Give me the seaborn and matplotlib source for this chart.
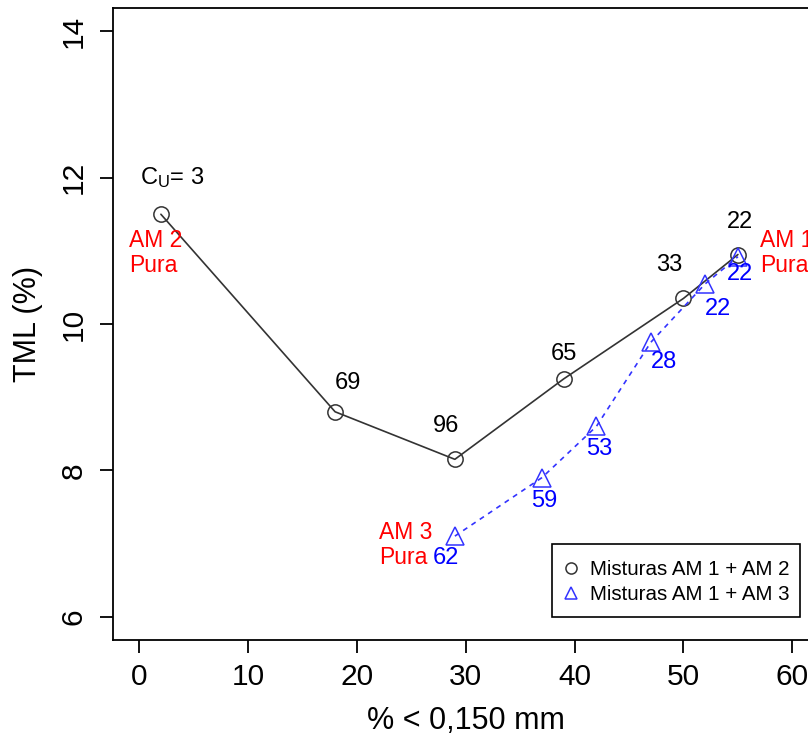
import matplotlib
matplotlib.use("Agg")
import matplotlib.pyplot as plt
from matplotlib.lines import Line2D
from matplotlib.patches import Rectangle
import seaborn as sns
import pandas as pd

# ---- data ----
x_am2 = [2, 18, 29, 39, 50, 55]
y_am2 = [11.5, 8.8, 8.15, 9.25, 10.35, 10.95]
lab_am2 = ["", "69", "96", "65", "33", "22"]

x_am3 = [29, 37, 42, 47, 52, 55]
y_am3 = [7.1, 7.9, 8.6, 9.75, 10.55, 10.92]
lab_am3 = ["62", "59", "53", "28", "22", "22"]

legend_labels = ["Misturas AM 1 + AM 2", "Misturas AM 1 + AM 3"]
x_label = "% < 0,150 mm"
y_label = "TML (%)"
x_ticks = [0, 10, 20, 30, 40, 50, 60]
y_ticks = [6, 8, 10, 12, 14]

# ---- styling / layout (not data) ----
lab_am2_off = [(0, 0), (13, 29), (-9, 33), (0, 25), (-14, 33), (2, 33)]
lab_am3_off = [(-9, -22), (2, -23), (3, -23), (13, -20), (13, -25), (2, -17)]

sns.set_style("ticks")
plt.rcParams["font.family"] = ["Liberation Sans", "DejaVu Sans"]
plt.rcParams["mathtext.fontset"] = "custom"
plt.rcParams["mathtext.rm"] = "Liberation Sans"
plt.rcParams["mathtext.it"] = "Liberation Sans"
plt.rcParams["text.color"] = "black"
plt.rcParams["axes.labelcolor"] = "black"
plt.rcParams["xtick.color"] = "black"
plt.rcParams["ytick.color"] = "black"

W, H = 808, 737
AX_L, AX_T, AX_R, AX_B = 113, 8, 818.5, 640
fig = plt.figure(figsize=(W / 100, H / 100), dpi=100)
ax = fig.add_axes([AX_L / W, (H - AX_B) / H, (AX_R - AX_L) / W, (AX_B - AX_T) / H])

def ax_x(px):
    return (px - AX_L) / (AX_R - AX_L)

def ax_y(py):
    return (AX_B - py) / (AX_B - AX_T)

df2 = pd.DataFrame({"x": x_am2, "y": y_am2})
df3 = pd.DataFrame({"x": x_am3, "y": y_am3})

c_black = "#333333"
c_blue = "#3333ff"

sns.lineplot(data=df2, x="x", y="y", ax=ax, sort=False, color=c_black, lw=1.2,
             marker="o", ms=11, mfc="none", mec=c_black, mew=1.1, estimator=None)
sns.lineplot(data=df3, x="x", y="y", ax=ax, sort=False, color=c_blue, lw=1.2,
             linestyle=(0, (3, 3)), marker="^", ms=13, mfc="none", mec=c_blue,
             mew=1.1, estimator=None)

def px2pt(v):
    return v * 72 / 100

FS_PT = 17
FS_RED = 16.5

for xi, yi, t, (dx, dy) in zip(x_am2, y_am2, lab_am2, lab_am2_off):
    if t:
        ax.annotate(t, (xi, yi), xytext=(px2pt(dx), px2pt(dy)), textcoords="offset points",
                    ha="center", va="center", fontsize=FS_PT, color="black")
for xi, yi, t, (dx, dy) in zip(x_am3, y_am3, lab_am3, lab_am3_off):
    ax.annotate(t, (xi, yi), xytext=(px2pt(dx), px2pt(dy)), textcoords="offset points",
                ha="center", va="center", fontsize=FS_PT, color="blue")

# C_U label
ax.annotate(r"C$_\mathregular{U}$= 3", (x_am2[0], y_am2[0]), xytext=(px2pt(-21), px2pt(37)),
            textcoords="offset points", ha="left", va="center", fontsize=FS_PT, color="black")

# red "Pura" labels
ax.annotate("AM 2\nPura", (x_am2[0], y_am2[0]), xytext=(px2pt(-32), px2pt(-38.5)),
            textcoords="offset points", ha="left", va="center", fontsize=FS_RED, color="red",
            linespacing=1.12)
ax.annotate("AM 3\nPura", (x_am3[0], y_am3[0]), xytext=(px2pt(-76), px2pt(-8.5)),
            textcoords="offset points", ha="left", va="center", fontsize=FS_RED, color="red",
            linespacing=1.12)
ax.annotate("AM 1\nPura", (x_am3[-1], y_am3[-1]), xytext=(px2pt(22), px2pt(3.5)),
            textcoords="offset points", ha="left", va="center", fontsize=FS_RED, color="red",
            linespacing=1.12)

ax.set_xlim(-2.4, 62.4)
ax.set_ylim(5.68, 14.32)
ax.set_xticks(x_ticks)
ax.set_yticks(y_ticks)
ax.set_xticklabels([str(v) for v in x_ticks], fontsize=21.5)
ax.set_yticklabels([str(v) for v in y_ticks], fontsize=21.5, rotation=90, va="center")
ax.tick_params(axis="both", direction="out", length=9.4, width=1.3, color="black")
ax.tick_params(axis="x", pad=7)
ax.tick_params(axis="y", pad=9)
for s in ax.spines.values():
    s.set_visible(True)
    s.set_linewidth(1.3)
    s.set_color("black")

ax.set_xlabel(x_label, fontsize=22, labelpad=11)
ax.set_ylabel(y_label, fontsize=22, labelpad=12)

# legend: R-style box drawn as a rectangle, entries placed inside it
box = Rectangle((ax_x(552), ax_y(617)), ax_x(800) - ax_x(552), ax_y(544) - ax_y(617),
                transform=ax.transAxes, fill=True, facecolor="white", edgecolor="black",
                lw=1.2, zorder=5)
ax.add_patch(box)
handles = [
    Line2D([], [], marker="o", ls="none", ms=8, mfc="none", mec=c_black, mew=1.1),
    Line2D([], [], marker="^", ls="none", ms=9, mfc="none", mec=c_blue, mew=1.1),
]
leg = ax.legend(handles, legend_labels, loc="center left",
                bbox_to_anchor=(ax_x(561), ax_y(582)),
                fontsize=14.8, frameon=False,
                handlelength=1.0, handletextpad=0.42, borderpad=0, labelspacing=0.3,
                borderaxespad=0)
leg.set_zorder(6)
for t in leg.get_texts():
    t.set_color("black")

fig.savefig("out.png", dpi=100)
